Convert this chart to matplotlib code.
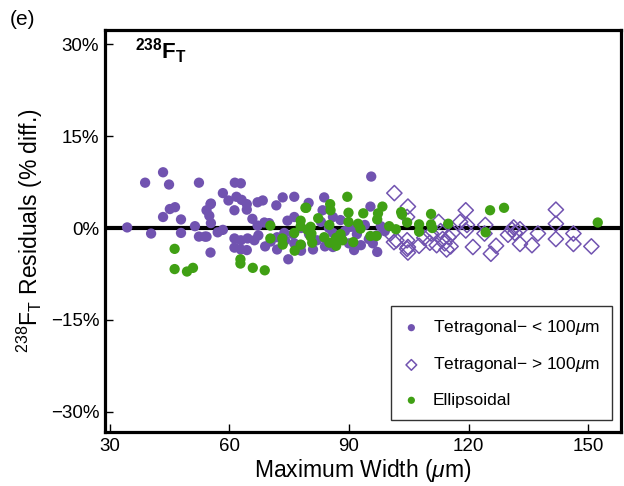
import matplotlib
matplotlib.use("Agg")
import matplotlib.pyplot as plt

plt.rcParams['font.family'] = ['Liberation Sans', 'DejaVu Sans']
plt.rcParams['mathtext.fontset'] = 'custom'
plt.rcParams['mathtext.rm'] = 'Liberation Sans'
plt.rcParams['mathtext.it'] = 'Liberation Sans:italic'
plt.rcParams['mathtext.bf'] = 'Liberation Sans:bold'

# Tetragonal, max width < 100 um (filled purple circles)
tet_small_x = [34.4, 38.9, 40.4, 43.4, 43.4, 44.9, 45.1, 46.4, 47.9, 47.9,
               51.4, 52.4, 52.4, 53.9, 55.3, 55.3, 54.3, 55.0, 55.4, 54.3,
               55.4, 57.1, 58.4, 58.4, 59.8, 61.4, 62.9, 61.8, 63.1, 64.4,
               61.3, 64.4, 67.1, 68.4, 71.8, 73.4, 76.3, 79.9, 61.3, 62.9,
               64.6, 66.3, 61.3, 62.9, 64.4, 65.8, 67.1, 68.8, 67.3, 70.4,
               73.8, 74.6, 76.3, 74.8, 76.3, 83.8, 95.6, 95.4, 83.4, 87.9,
               90.4, 91.3, 97.1, 91.3, 82.0, 84.0, 86.0, 88.0, 90.0, 93.0,
               95.0, 97.0, 99.0, 98.0, 80.0, 78.0, 81.0, 85.0, 89.0, 92.0,
               94.0, 96.0, 83.0, 86.0, 78.0, 76.0, 72.0, 70.0, 69.0, 72.0,
               74.0, 78.0, 86.0]
tet_small_y = [0.1, 7.4, -0.9, 9.1, 1.8, 7.1, 3.1, 3.4, 1.4, -0.8,
               0.3, 7.4, -1.4, -1.4, -4.0, 3.9, 2.9, 2.0, 0.8, -1.4,
               4.0, -0.7, -0.3, 5.7, 4.5, 7.4, 7.3, 5.1, 4.6, 3.9,
               2.9, 3.0, 4.2, 4.5, 3.7, 5.0, 5.1, 4.1, -1.7, -2.0,
               -1.7, -2.0, -3.2, -3.5, -3.6, 1.5, 0.4, 0.9, -1.2, -2.2,
               -0.8, 1.2, 1.8, -5.1, -2.5, 5.0, 8.4, 3.5, 2.9, 1.3,
               0.2, 0.2, -3.9, -3.6, -2.0, -3.0, -3.1, -1.5, -2.5, -2.8,
               -1.8, -1.2, -0.5, 0.3, -1.0, -2.8, -3.5, 0.0, -0.5, -1.0,
               0.5, -2.5, 1.0, 1.8, 0.0, -1.0, -1.5, 0.8, -3.0, -3.5,
               -2.0, -3.7, -0.8]

# Tetragonal, max width > 100 um (open purple diamonds)
tet_large_x = [100.4, 101.4, 101.9, 101.3, 104.8, 104.6, 104.6, 104.6, 104.8, 104.8,
               107.6, 108.9, 110.3, 110.6, 112.5, 113.0, 113.5, 114.0, 115.0, 115.5,
               116.0, 114.5, 112.0, 119.3, 119.6, 117.9, 119.3, 121.1, 124.2, 124.0,
               125.6, 126.9, 129.9, 130.9, 131.6, 131.3, 132.9, 132.9, 135.9, 137.4,
               141.9, 141.9, 141.9, 146.3, 146.3, 150.8]
tet_large_y = [-0.9, 5.7, -2.0, -2.3, 3.5, 1.8, -2.0, -3.4, -3.1, -4.0,
               -2.9, -1.6, -2.4, -0.9, 1.0, -0.5, -1.8, -2.5, -1.5, -3.0,
               -0.8, -3.5, -2.8, 2.9, 0.5, 1.0, -0.4, -3.1, 0.5, -0.9,
               -4.2, -2.9, -1.1, -0.3, -0.8, 0.1, -0.2, -2.6, -2.8, -0.9,
               3.0, 0.7, -1.8, -0.9, -2.6, -3.0]

# Ellipsoidal (filled green circles)
ell_x = [46.3, 46.3, 49.4, 50.9, 62.8, 62.8, 65.9, 68.9, 70.3, 70.3,
         73.3, 73.4, 77.9, 77.9, 79.1, 76.3, 77.9, 76.4, 79.6, 80.4,
         89.6, 85.3, 85.4, 79.3, 89.9, 93.6, 98.4, 97.3, 97.1, 82.3,
         80.4, 80.6, 80.8, 85.1, 87.9, 89.9, 92.3, 92.9, 83.8, 85.1,
         86.8, 86.8, 88.4, 91.1, 95.4, 96.9, 100.1, 101.8, 103.1, 103.3,
         104.6, 107.6, 107.6, 110.6, 110.6, 110.9, 114.9, 125.4, 128.9, 124.3,
         152.4]
ell_y = [-3.4, -6.7, -7.1, -6.5, -5.1, -5.8, -6.5, -6.9, 0.4, -1.7,
         -1.7, -2.7, 1.2, 0.3, 3.3, -0.8, -2.7, -3.7, -0.3, -1.4,
         5.1, 3.9, 2.9, 3.3, 2.5, 2.4, 3.5, 2.4, 1.4, 1.6,
         0.2, -0.9, -2.4, 0.5, -1.0, 1.0, 0.7, -0.1, -1.5, -2.4,
         -1.6, -2.9, -2.0, -2.3, -1.3, -1.3, 0.3, -0.2, 2.6, 2.2,
         0.9, 0.6, -0.6, 2.3, 0.6, 0.0, 0.7, 2.9, 3.3, -0.7,
         0.9]

x_ticks = [30, 60, 90, 120, 150]
y_ticks = [-30, -15, 0, 15, 30]
y_ticklabels = ['\u221230%', '\u221215%', '0%', '15%', '30%']

purple = '#7153b0'
green = '#40a014'

fig = plt.figure(figsize=(6.24, 4.86), dpi=100)
ax = fig.add_axes([0.168, 0.111, 0.827, 0.827])

ax.axhline(0, color='black', lw=3, zorder=1)
ax.scatter(tet_small_x, tet_small_y, s=55, color=purple, edgecolors='none',
           zorder=2, label='Tetragonal\u2212 < 100$\\mu$m')
ax.scatter(tet_large_x, tet_large_y, s=60, marker='D', facecolors='none',
           edgecolors=purple, linewidths=1.1, zorder=3,
           label='Tetragonal\u2212 > 100$\\mu$m')
ax.scatter(ell_x, ell_y, s=55, color=green, edgecolors='none', zorder=4,
           label='Ellipsoidal')

ax.set_xlim(28.8, 158.2)
ax.set_ylim(-33.3, 32.3)
ax.set_xticks(x_ticks)
ax.set_yticks(y_ticks)
ax.set_yticklabels(y_ticklabels)
ax.tick_params(direction='in', length=6, width=1, labelsize=13.5, pad=4)
for sp in ax.spines.values():
    sp.set_linewidth(2.3)

ax.set_xlabel(r'Maximum Width ($\mu$m)', fontsize=16.5, labelpad=2)
ax.set_ylabel(r'$^{238}$F$_{\mathrm{T}}$ Residuals (% diff.)', fontsize=16.5)

ax.text(0.058, 0.985, r'$^{\mathbf{238}}$$\mathbf{F}_{\mathbf{T}}$', transform=ax.transAxes,
        fontsize=16, fontweight='bold', va='top', ha='left')
fig.text(0.015, 0.94, '(e)', fontsize=15, ha='left', va='bottom')

leg = ax.legend(loc='lower right', bbox_to_anchor=(0.983, 0.03), borderaxespad=0,
                fontsize=12.5, frameon=True, fancybox=False, edgecolor='black',
                handlelength=0.9, handletextpad=0.8, labelspacing=1.05,
                borderpad=0.7, markerscale=0.7)
leg.get_frame().set_linewidth(1.0)

fig.savefig('out.png', dpi=100)
